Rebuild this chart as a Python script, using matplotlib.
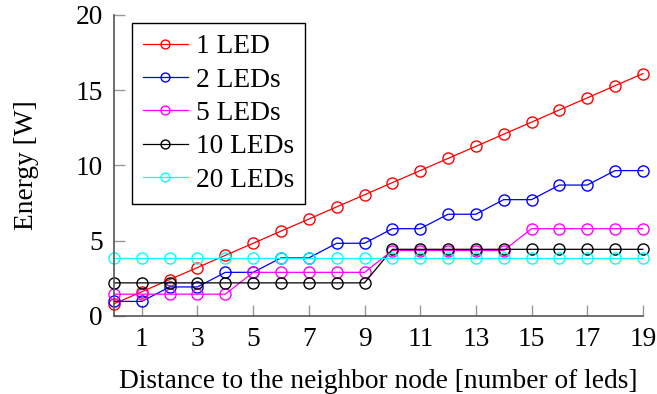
import matplotlib
matplotlib.use('Agg')
import matplotlib.pyplot as plt

plt.rcParams['font.family'] = 'Liberation Serif'
plt.rcParams['font.size'] = 19.7

# Distance to neighbor node
distance = list(range(20))

# Energy [W] per configuration
led_1 = [0.81, 1.61, 2.42, 3.22, 4.03, 4.83, 5.64, 6.44, 7.25, 8.05,
         8.86, 9.66, 10.47, 11.27, 12.08, 12.88, 13.69, 14.49, 15.30, 16.10]
led_2 = [0.97, 0.97, 1.93, 1.93, 2.90, 2.90, 3.86, 3.86, 4.83, 4.83,
         5.80, 5.80, 6.76, 6.76, 7.73, 7.73, 8.70, 8.70, 9.66, 9.66]
led_5 = [1.45, 1.45, 1.45, 1.45, 1.45, 2.90, 2.90, 2.90, 2.90, 2.90,
         4.35, 4.35, 4.35, 4.35, 4.35, 5.80, 5.80, 5.80, 5.80, 5.80]
led_10 = [2.20, 2.20, 2.20, 2.20, 2.20, 2.20, 2.20, 2.20, 2.20, 2.20,
          4.43, 4.43, 4.43, 4.43, 4.43, 4.43, 4.43, 4.43, 4.43, 4.43]
led_20 = [3.86] * 20

series = [
    ('1 LED', led_1, 'red'),
    ('2 LEDs', led_2, 'blue'),
    ('5 LEDs', led_5, 'magenta'),
    ('10 LEDs', led_10, 'black'),
    ('20 LEDs', led_20, 'cyan'),
]

fig = plt.figure(figsize=(6.57, 3.94), dpi=100)
ax = fig.add_axes([0.1735, 0.198, 0.805, 0.764])

for label, vals, color in series:
    ax.plot(distance, vals, color=color, lw=0.9, marker='o', markersize=8,
            markerfacecolor='none', markeredgewidth=1.0, label=label,
            clip_on=False)

ax.set_xlim(0, 19)
ax.set_ylim(0, 20)
ax.set_xticks(range(1, 20, 2))
ax.set_yticks([0, 5, 10, 15, 20])

ax.spines['top'].set_visible(False)
ax.spines['right'].set_visible(False)
for s in ['left', 'bottom']:
    ax.spines[s].set_color('#555555')
    ax.spines[s].set_linewidth(1.2)
ax.tick_params(direction='in', length=8, width=1, color='#999999', pad=8)

ax.set_xlabel('Distance to the neighbor node [number of leds]', labelpad=12)
ax.set_ylabel('Energy [W]', labelpad=26)

leg = ax.legend(loc='upper left', bbox_to_anchor=(0.034, 0.973), fancybox=False,
                edgecolor='black', framealpha=1, markerscale=0.8,
                handlelength=1.65, handletextpad=0.3, labelspacing=0.3,
                borderpad=0.4, borderaxespad=0)
leg.get_frame().set_linewidth(1.0)

fig.savefig('out.png', dpi=100)
